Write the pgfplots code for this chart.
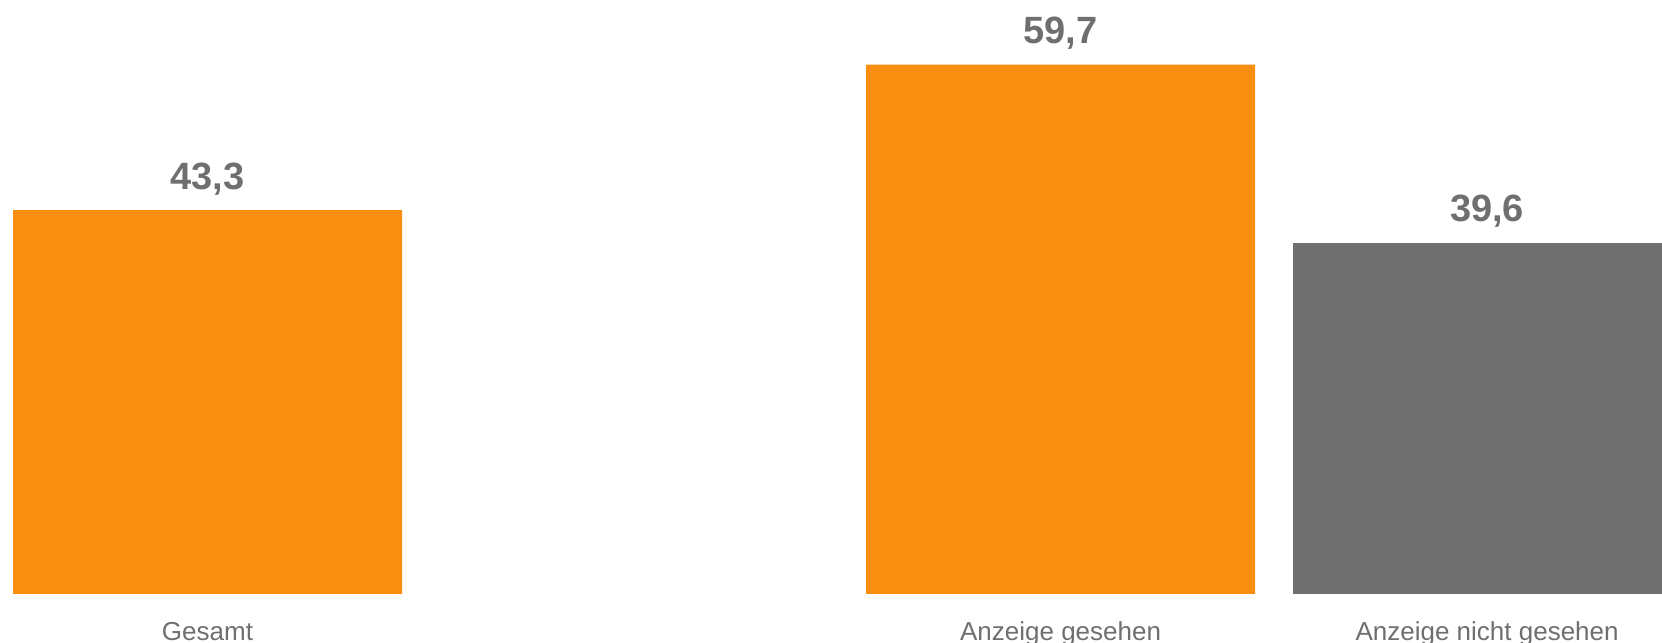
\documentclass[border=0pt]{standalone}
\usepackage{pgfplots}
\pgfplotsset{compat=1.18}
\usepackage{fontspec}
\setmainfont{Liberation Sans}
\definecolor{orangebar}{HTML}{F98E10}
\definecolor{graybar}{HTML}{6F6F6F}

\begin{document}
\begin{tikzpicture}
\begin{axis}[
  scale only axis, width=831pt, height=297pt,
  xmin=-0.4865, xmax=3.41, ymin=0, ymax=67,
  axis line style={draw=none}, major tick style={draw=none},
  ymajorticks=false,
  xtick={0,2,3},
  xticklabels={Gesamt,Anzeige gesehen,Anzeige nicht gesehen},
  xticklabel style={anchor=base, yshift=-18.75pt, inner sep=0pt,
    font=\fontsize{13}{15}\selectfont, text=graybar},
  ybar, bar width=0.912, bar shift=0pt,
  nodes near coords, point meta=explicit symbolic,
  every node near coord/.append style={anchor=base, yshift=10.5pt,
    inner sep=0pt, font=\fontsize{19}{22}\bfseries\selectfont, text=graybar},
]
\addplot[fill=orangebar, draw=none] table[meta=label] {
x y label
0 43.3 43,3
2 59.7 59,7
};
\addplot[fill=graybar, draw=none] table[meta=label] {
x y label
3 39.6 39,6
};
\end{axis}
\pgfresetboundingbox
\path[use as bounding box] ([yshift=-24.5pt]current axis.south west) rectangle (current axis.north east);
\end{tikzpicture}
\end{document}
